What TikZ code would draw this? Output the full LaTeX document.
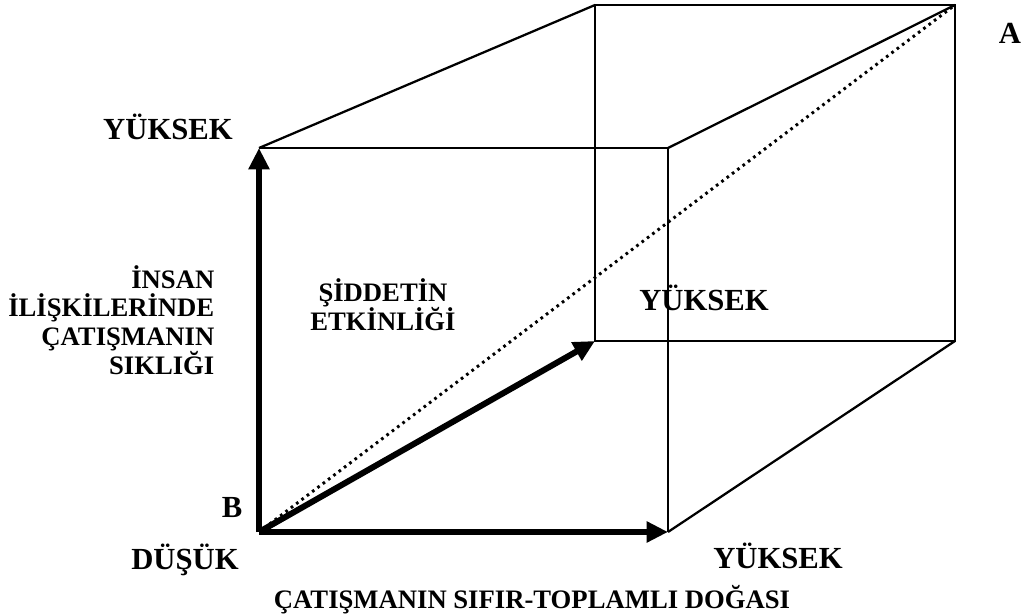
\documentclass[tikz,border=0pt]{standalone}
\usepackage{fontspec}
\setmainfont{Liberation Serif}
\usetikzlibrary{arrows.meta}

\begin{document}
\begin{tikzpicture}[x=0.75pt,y=-0.75pt,>={Triangle[length=16pt,width=15pt]},
	every node/.style={font=\fontsize{20}{18}\selectfont\bfseries},
	big/.style={font=\fontsize{23}{22}\selectfont\bfseries}]
		\useasboundingbox (0,0) rectangle (1023,616);
		
		% front face
		\coordinate (B)at(259,532);
		\coordinate (FR)at(668,532);
		\coordinate (FTL)at(259,148);
		\coordinate (FTR)at(668,148);
		% back face
		\coordinate (BBL)at(595,341);
		\coordinate (BBR)at(955,341);
		\coordinate (BTL)at(595,5);
		\coordinate (A)at(955,5);
		
		\draw[line width=1.7pt](FTL)--(FTR)--(FR);
		\draw[line width=1.7pt](BTL)--(A)--(BBR)--(BBL)--cycle;
		\draw[line width=1.7pt](FTL)--(BTL);
		\draw[line width=1.7pt](FTR)--(A);
		\draw[line width=1.7pt](FR)--(BBR);
		
		\draw[line width=2.2pt,dash pattern=on 2pt off 3pt](B)--(A);
		
		\draw[line width=4.5pt,->](B)--(FTL);
		\draw[line width=4.5pt,->](B)--(FR);
		\draw[line width=4.5pt,->](B)--(BBL);
		
		\node[big] (lblA) at (1010,33) {A};
		\node[big] (lblB) at (232,508) {B};
		\node[big] (low) at (185,560) {DÜŞÜK};
		\node[big] (highY) at (168,127) {YÜKSEK};
		\node[big] (highZ) at (704,298) {YÜKSEK};
		\node[big] (highX) at (778,556) {YÜKSEK};
		
		\node[align=right,anchor=east,font=\fontsize{20}{21.5}\selectfont\bfseries] (freq) at (219,320) {İNSAN\\İLİŞKİLERİNDE\\ÇATIŞMANIN\\SIKLIĞI};
		\node[align=center,font=\fontsize{20}{22}\selectfont\bfseries] (viol) at (383,305) {ŞİDDETİN\\ETKİNLİĞİ};
		\node (zero) at (532,600) {ÇATIŞMANIN SIFIR-TOPLAMLI DOĞASI};
	\end{tikzpicture}
\end{document}
